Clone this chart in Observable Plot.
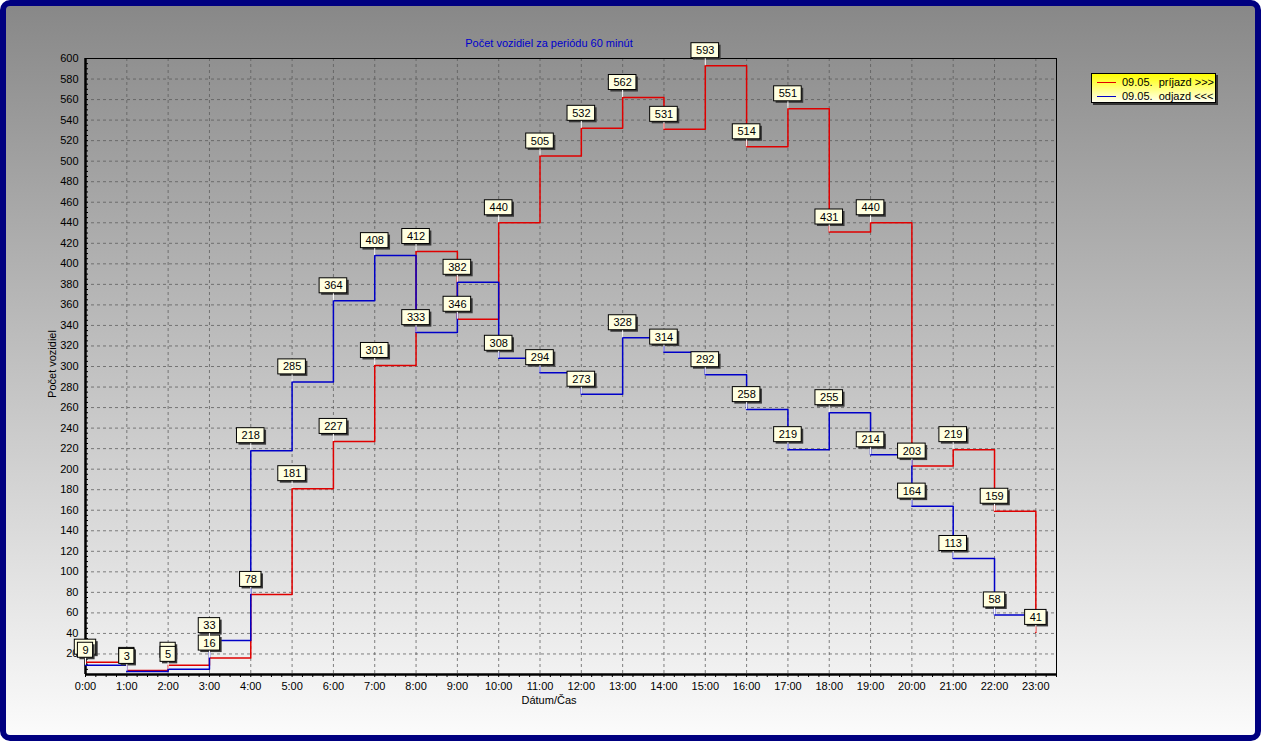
<!DOCTYPE html>
<html><head><meta charset="utf-8">
<script src="https://cdn.jsdelivr.net/npm/d3@7"></script>
<script src="https://cdn.jsdelivr.net/npm/@observablehq/plot@0.6"></script>
<style>
body{margin:0;background:#fff;width:1264px;height:743px;overflow:hidden;font-family:"Liberation Sans",Arial,sans-serif;position:relative;}
#frame{position:absolute;left:0;top:0;width:1261px;height:741px;box-sizing:border-box;border:6px solid #000080;border-radius:10px;background:linear-gradient(#888888,#fbfbfb);}
#chart{position:absolute;left:0;top:0;}
.txt{position:absolute;font-size:11px;line-height:14px;white-space:nowrap;color:#000;}
#title{left:349px;width:400px;top:36px;text-align:center;color:#0000cc;}
#xlabel{left:449px;width:200px;top:693px;text-align:center;}
#ylabel{left:2px;width:100px;top:357px;text-align:center;transform:rotate(-90deg);}
#legend{position:absolute;left:1091px;top:73px;width:125px;height:30px;box-sizing:border-box;border:1px solid #000;background:linear-gradient(#ffff00,#fffff2);box-shadow:2px 2px 0 #333;font-size:11px;}
.row{position:absolute;left:0;height:14px;line-height:14px;}
.sw{position:absolute;left:5px;top:7px;width:19px;height:0;border-top:1px solid;}
.lt{position:absolute;left:30px;top:0;white-space:pre;}
</style></head>
<body>
<div id="frame"></div>
<div id="chart"></div>
<div id="title" class="txt">Počet vozidiel za periódu 60 minút</div>
<div id="xlabel" class="txt">Dátum/Čas</div>
<div id="ylabel" class="txt">Počet vozidiel</div>
<div id="legend"></div>
<script>
const hours = [0,1,2,3,4,5,6,7,8,9,10,11,12,13,14,15,16,17,18,19,20,21,22,23];
const hourLabels = ["0:00","1:00","2:00","3:00","4:00","5:00","6:00","7:00","8:00","9:00","10:00","11:00","12:00","13:00","14:00","15:00","16:00","17:00","18:00","19:00","20:00","21:00","22:00","23:00"];
const prijazd = [12,4,9,16,78,181,227,301,412,346,440,505,532,562,531,593,514,551,431,440,203,219,159,41];
const odjazd = [9,3,5,33,218,285,364,408,333,382,308,294,273,328,314,292,258,219,255,214,164,113,58];
const yTicks = [20,40,60,80,100,120,140,160,180,200,220,240,260,280,300,320,340,360,380,400,420,440,460,480,500,520,540,560,580,600];
const seriesNames = ["09.05.  príjazd >>>", "09.05.  odjazd <<<"];
const seriesColors = ["#e00000", "#0000c8"];

const W = 1264, H = 743, mL = 85, mR = 208, mT = 58, mB = 69;
const xMax = 23.5, yMax = 600;
const pxH = (W - mL - mR) / xMax;
const pxV = (H - mT - mB) / yMax;

const red = prijazd.map((v, i) => ({h: hours[i], v}));
const blue = odjazd.map((v, i) => ({h: hours[i], v}));
const blueLine = blue.concat([{h: hours[odjazd.length], v: odjazd[odjazd.length - 1]}]);

const gap = 7.5 / pxV, boxH = 15 / pxV;
const bw = d => (6.2 * String(d.v).length + 9) / pxH / 2;

function labelMarks(data) {
  return [
    Plot.rect(data, {x1: d => d.h - bw(d), x2: d => d.h + bw(d), y1: d => d.v + gap, y2: d => d.v + gap + boxH, fill: "#3a3a3a", dx: 2, dy: 2}),
    Plot.ruleX(data, {x: "h", y1: "v", y2: d => d.v + gap, stroke: "white", strokeWidth: 1}),
    Plot.rect(data, {x1: d => d.h - bw(d), x2: d => d.h + bw(d), y1: d => d.v + gap, y2: d => d.v + gap + boxH, fill: "#ffffe1", stroke: "black", strokeWidth: 1}),
    Plot.text(data, {x: "h", y: d => d.v + gap + boxH / 2, text: d => String(d.v), fill: "black", fontSize: 11})
  ];
}

const quarters = d3.range(0, xMax + 0.001, 0.25);
const fives = d3.range(0, yMax + 0.001, 5);

const chart = Plot.plot({
  width: W, height: H,
  marginLeft: mL, marginRight: mR, marginTop: mT, marginBottom: mB,
  style: {background: "transparent", fontFamily: "Liberation Sans, Arial, sans-serif", fontSize: "11px", color: "black"},
  x: {type: "linear", domain: [0, xMax], ticks: hours, tickFormat: d => hourLabels[d], tickSize: 0, tickPadding: 8, label: null},
  y: {domain: [0, yMax], ticks: yTicks, tickSize: 0, tickPadding: 7, label: null},
  marks: [
    Plot.ruleY(yTicks.slice(0, -1), {stroke: "#5a5a5a", strokeOpacity: 0.75, strokeDasharray: "3,3"}),
    Plot.ruleX(hours.slice(1), {stroke: "#5a5a5a", strokeOpacity: 0.75, strokeDasharray: "3,3"}),
    Plot.ruleX(quarters, {x: d => d, y1: 0, y2: -3 / pxV, stroke: "black"}),
    Plot.ruleY(fives, {y: d => d, x1: 0, x2: 3 / pxH, stroke: "black"}),
    Plot.frame({stroke: "black"}),
    Plot.ruleX([0], {stroke: "black", strokeWidth: 2.5}),
    Plot.ruleY([0], {stroke: "black", strokeWidth: 2.5}),
    Plot.line(red, {x: "h", y: "v", curve: "step-after", stroke: seriesColors[0], strokeWidth: 1.5}),
    Plot.line(blueLine, {x: "h", y: "v", curve: "step-after", stroke: seriesColors[1], strokeWidth: 1.5}),
    ...labelMarks(red),
    ...labelMarks(blue)
  ]
});
document.getElementById("chart").appendChild(chart);

const lg = document.getElementById("legend");
seriesNames.forEach((n, i) => {
  const r = document.createElement("div");
  r.className = "row";
  r.style.top = (1 + i * 14) + "px";
  r.innerHTML = `<div class="sw" style="border-color:${seriesColors[i]}"></div><div class="lt"></div>`;
  r.querySelector(".lt").textContent = n;
  lg.appendChild(r);
});
</script>
</body></html>
